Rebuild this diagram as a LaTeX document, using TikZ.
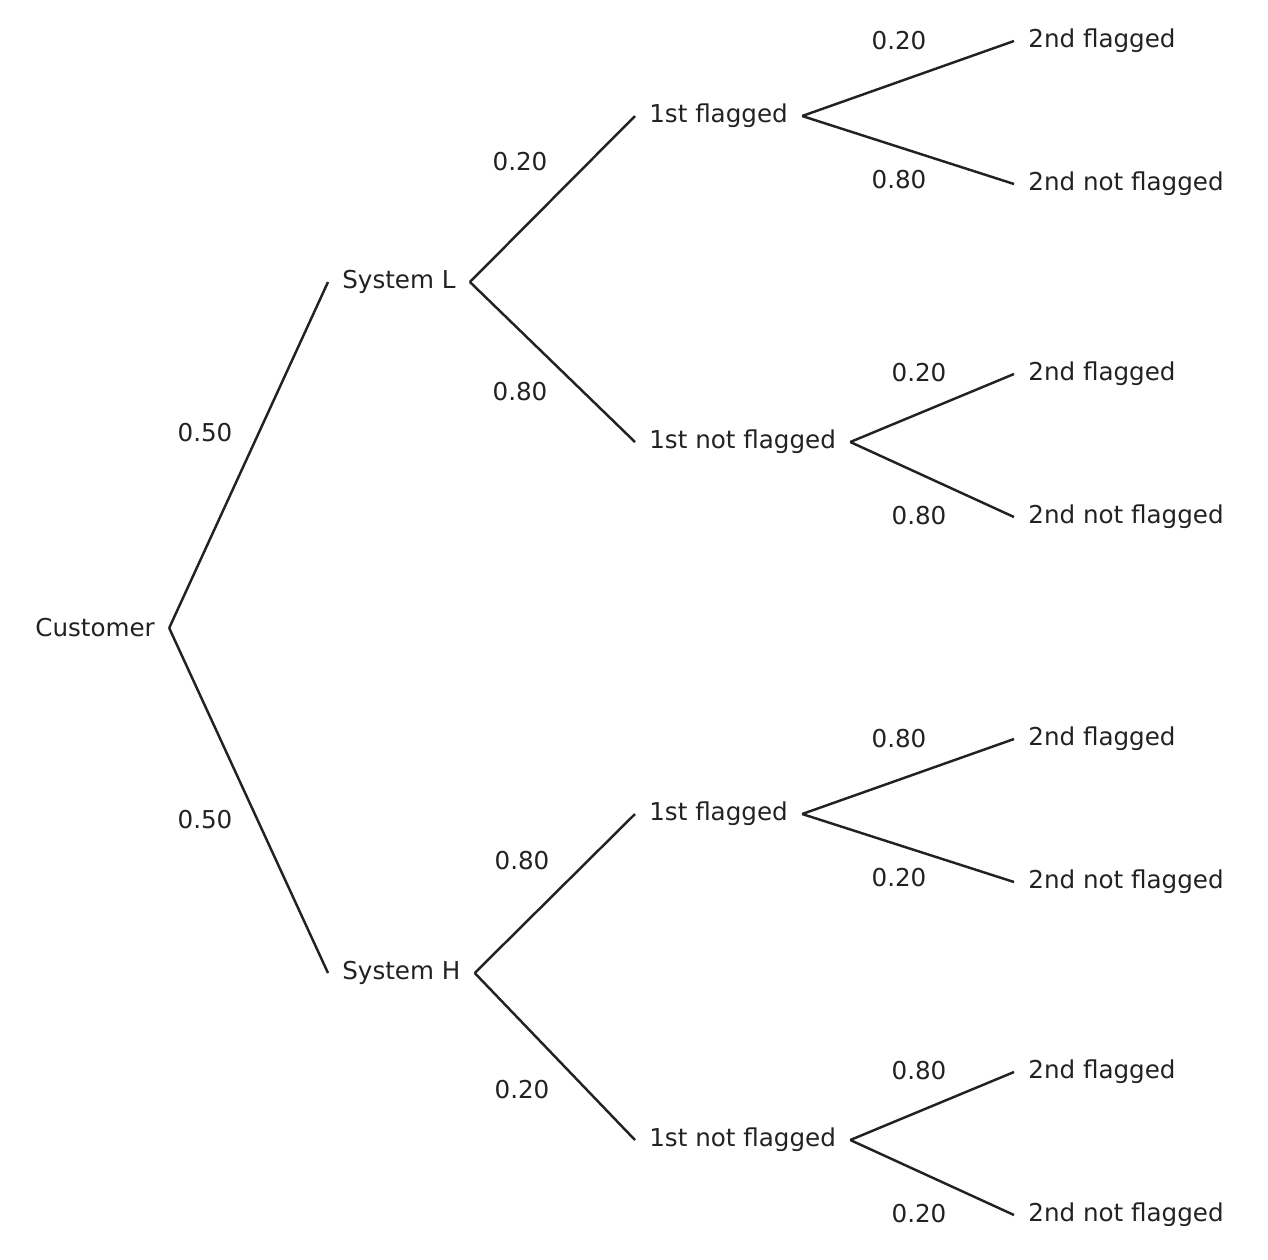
\documentclass[tikz,border=0pt]{standalone}
\usepackage{fontspec}
\setmainfont{DejaVu Sans}
\usetikzlibrary{positioning}
\definecolor{ink}{HTML}{222222}
\tikzset{
    lbl/.style={anchor=west, inner xsep=0.28cm, inner ysep=0pt, text=ink, font=\fontsize{14}{16}\selectfont},
    prob/.style={text=ink, font=\fontsize{14}{16}\selectfont},
    branch/.style={draw=ink, line width=1.4pt}
}
\begin{document}
\begin{tikzpicture}[x=0.02cm, y=-0.02cm]
    \useasboundingbox (0,0) rectangle (1268,1259);

    % Tree levels
    \node[lbl] (cust) at (21,628) {Customer};
    \node[lbl] (sysL) at (328,282) {System L};
    \node[lbl] (sysH) at (328,973) {System H};
    \node[lbl] (Lf)  at (635,116) {1st flagged};
    \node[lbl] (Ln)  at (635,442) {1st not flagged};
    \node[lbl] (Hf)  at (635,814) {1st flagged};
    \node[lbl] (Hn)  at (635,1140) {1st not flagged};
    \foreach \n/\y/\t in {Lff/41/2nd flagged, Lfn/184/2nd not flagged,
                          Lnf/374/2nd flagged, Lnn/517/2nd not flagged,
                          Hff/739/2nd flagged, Hfn/882/2nd not flagged,
                          Hnf/1072/2nd flagged, Hnn/1215/2nd not flagged} {
        \node[lbl] (\n) at (1014,\y) {\t};
    }

    % Branches
    \foreach \a/\b in {cust/sysL, cust/sysH, sysL/Lf, sysL/Ln, sysH/Hf, sysH/Hn,
                       Lf/Lff, Lf/Lfn, Ln/Lnf, Ln/Lnn, Hf/Hff, Hf/Hfn, Hn/Hnf, Hn/Hnn} {
        \draw[branch] (\a.east) -- (\b.west);
    }

    % Probabilities
    \foreach \x/\y/\p in {205/433/0.50, 205/820/0.50,
                          520/162/0.20, 520/392/0.80, 522/861/0.80, 522/1090/0.20,
                          899/41/0.20, 899/180/0.80, 919/373/0.20, 919/516/0.80,
                          899/739/0.80, 899/878/0.20, 919/1071/0.80, 919/1214/0.20} {
        \node[prob] at (\x,\y) {\p};
    }
\end{tikzpicture}
\end{document}
